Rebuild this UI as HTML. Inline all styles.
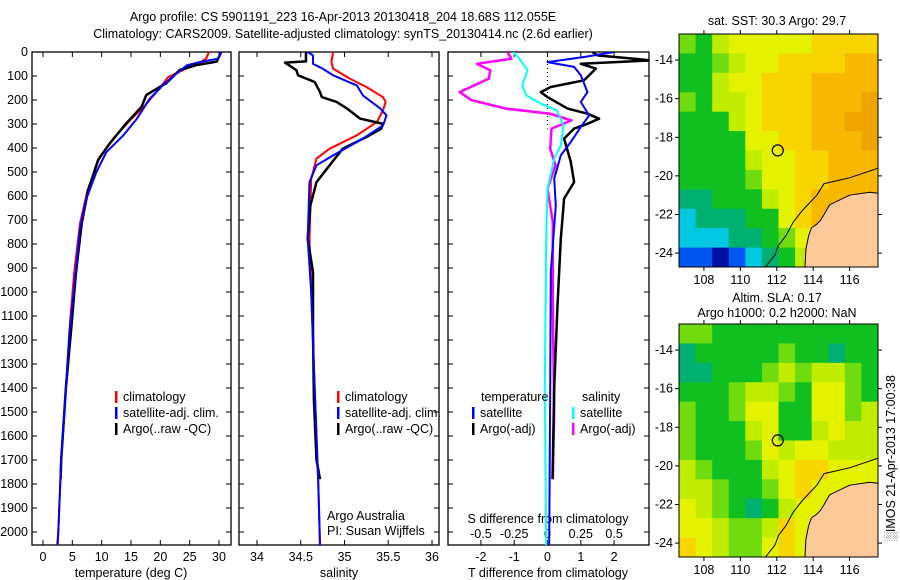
<!DOCTYPE html>
<html><head><meta charset="utf-8">
<style>
html,body{margin:0;padding:0;background:#fff;}
svg{display:block;font-family:"Liberation Sans",sans-serif;font-size:12.5px;}
</style></head>
<body>
<svg id="fig" width="900" height="580" viewBox="0 0 900 580" xmlns="http://www.w3.org/2000/svg">
<text x="343" y="21" text-anchor="middle">Argo profile: CS 5901191_223 16-Apr-2013 20130418_204 18.68S 112.055E</text>
<text x="343" y="38" text-anchor="middle">Climatology: CARS2009. Satellite-adjusted climatology: synTS_20130414.nc (2.6d earlier)</text>
</svg>
<script>
// ---------- DATA ----------
const tClimDepth=[0,28,46,70,105,160,228,283,352,436,575,714,922,1130,1400,1700,2000,2055];
const tClimVal=[28.3,27.8,26.6,24.3,21.3,19.6,17.2,14.9,12.3,9.7,7.6,6.3,5.3,4.6,3.9,3.1,2.6,2.4];
const tSatDepth=[0,28,42,56,125,194,278,347,417,500,611,736,986,1170,1400,1700,2000,2055];
const tSatVal=[30.4,29.8,26.7,24.5,21.0,18.2,16.0,13.7,10.8,9.1,7.4,6.3,5.3,4.5,3.9,3.1,2.6,2.5];
const tArgoDepth=[0,40,54,75,130,179,228,297,380,450,575,714,922,1130,1400,1700,1780];
const tArgoVal=[30.4,29.6,26.2,23.3,21.0,17.6,16.8,14.2,11.4,9.4,7.7,6.6,5.6,4.9,3.9,3.1,3.0];
const sClimDepth=[0,42,69,111,146,188,208,243,292,347,403,444,528,778,1000,1400,1800,2055];
const sClimVal=[34.87,34.85,34.87,35.06,35.25,35.44,35.47,35.44,35.37,35.14,34.83,34.68,34.62,34.60,34.62,34.66,34.70,34.72];
const sSatDepth=[0,14,49,69,97,139,181,236,264,306,361,431,472,542,778,1000,1400,1800,2055];
const sSatVal=[34.58,34.64,34.64,34.75,34.87,35.14,35.21,35.41,35.48,35.44,35.21,34.87,34.68,34.60,34.58,34.62,34.66,34.70,34.72];
const sArgoDepth=[0,39,44,76,97,125,167,188,208,236,278,299,319,354,403,472,542,639,778,917,1167,1450,1700,1780];
const sArgoVal=[34.56,34.56,34.32,34.45,34.47,34.66,34.72,34.74,34.91,35.03,35.18,35.44,35.42,35.25,34.98,34.83,34.68,34.61,34.58,34.64,34.64,34.65,34.68,34.72];
const dTArgoDepth=[0,14,28,35,49,69,118,146,167,188,236,257,278,299,319,361,458,542,611,778,1056,1400,1780];
const dTArgoVal=[1.35,1.5,2.6,3.1,1.0,1.45,1.1,0.1,-0.2,0.0,0.6,1.2,1.55,1.2,0.8,0.5,0.7,0.8,0.5,0.4,0.3,0.2,0.15];
const dTSatDepth=[0,21,42,62,97,167,208,264,312,375,431,528,639,917,1400,2055];
const dTSatVal=[2.0,1.1,0.0,0.8,1.0,1.2,1.0,1.25,1.0,0.7,0.4,0.2,0.25,0.1,0.08,0.05];
const dSSatDepth=[0,28,76,139,181,215,243,306,389,444,569,778,1400,2055];
const dSSatVal=[-0.26,-0.21,-0.15,-0.19,-0.16,-0.05,0.07,0.12,0.1,0.05,0.0,-0.01,-0.02,-0.01];
const dSArgoDepth=[0,28,49,76,111,167,201,236,257,285,319,403,472,569,708,1056,1500,1780];
const dSArgoVal=[-0.3,-0.27,-0.53,-0.43,-0.44,-0.66,-0.57,-0.31,0.02,0.18,0.03,0.02,0.06,0.0,0.04,0.04,0.05,0.04];
const depthTicks=[0,100,200,300,400,500,600,700,800,900,1000,1100,1200,1300,1400,1500,1600,1700,1800,1900,2000];
const tempTicks=[0,5,10,15,20,25,30];
const salTicks=[34,34.5,35,35.5,36];
const tdTicks=[-2,-1,0,1,2];
const sdTicks=[-0.5,-0.25,0,0.25,0.5];
const sdTickLabels=["-0.5","-0.25","0","0.25","0.5"];
const sstGrid=[
[5,4,6,7,7,7,7,7,8,8,8,8],
[4,4,5,6,7,7,8,8,8,8,9,9],
[4,4,6,7,7,8,8,8,9,9,9,9],
[5,4,6,6,7,8,8,8,9,9,9,10],
[4,4,4,6,7,8,8,8,9,9,10,10],
[4,4,4,4,7,7,8,8,9,9,9,10],
[4,4,4,4,6,7,7,8,8,9,9,9],
[4,4,4,4,5,7,7,8,8,9,9,9],
[3,3,4,4,4,6,7,8,9,9,9,9],
[2,3,3,3,4,4,7,8,9,9,9,9],
[2,2,2,3,3,4,5,7,8,9,9,9],
[1,1,0,1,2,3,4,6,8,8,8,8]];
const slaGrid=[
[5,5,4,4,4,4,4,4,4,4,4,4],
[3,4,4,4,4,4,5,4,4,3,4,4],
[3,3,4,4,4,5,6,5,6,6,5,4],
[4,4,4,5,6,6,5,4,7,7,5,4],
[5,4,4,5,7,7,4,4,7,7,5,6],
[5,4,4,4,6,7,4,4,6,7,6,6],
[5,4,4,4,5,7,6,7,7,6,6,6],
[6,5,4,4,4,6,7,8,8,7,7,7],
[6,6,5,4,4,5,7,8,7,7,7,7],
[7,6,5,4,3,4,6,7,7,7,7,7],
[7,7,6,5,5,6,8,7,7,7,7,7],
[8,7,6,5,5,7,8,7,7,7,7,7]];
const lonTicks=[108,110,112,114,116];
const latTicks=[-14,-16,-18,-20,-22,-24];
const argoLon=112.055, argoLat=-18.68;
const coastLon=[117.56,116,114.6,114.2,113.4,112.9,112.5,112.1,111.9,111.4];
const coastLat=[-19.6,-20.1,-20.4,-21.0,-21.8,-22.4,-23.1,-23.6,-24.1,-24.7];
const landLon=[117.56,117.1,116,114.9,114.6,114.4,114.2,113.9,113.75,113.6,113.55];
const landLat=[-20.9,-20.85,-21.0,-21.5,-22.0,-22.3,-22.5,-22.7,-23.1,-23.8,-24.72];

// ---------- helpers ----------
const NS="http://www.w3.org/2000/svg";
const svg=document.getElementById('fig');
function mk(tag,attrs,parent){const e=document.createElementNS(NS,tag);for(const k in attrs)e.setAttribute(k,attrs[k]);(parent||svg).appendChild(e);return e;}
const yTop=52, pxPerM=0.24, yBot=545;
const yD=d=>yTop+d*pxPerM;
function linX(d0,d1,p0,p1){return v=>p0+(v-d0)*(p1-p0)/(d1-d0);}
const P1={x0:32,x1:231}, P2={x0:239,x1:439}, P3={x0:448,x1:649};
const xT=linX(0,30,43,219);
const xS=linX(34,36,257,432);
const xTD=linX(0,1,547.5,580.8);
const xSD=v=>xTD(v*4);

function frame(P,name){
  const g=mk('g',{});  
  mk('rect',{x:P.x0,y:yTop,width:P.x1-P.x0,height:yBot-yTop,fill:'none',stroke:'#000','stroke-width':1.3},g);
  depthTicks.forEach(d=>{const y=yD(d);
    mk('line',{x1:P.x0,x2:P.x0+5,y1:y,y2:y,stroke:'#000'},g);
    mk('line',{x1:P.x1-5,x2:P.x1,y1:y,y2:y,stroke:'#000'},g);});
  return g;
}
function xticks(g,ticks,fx,labels,ly){
  ticks.forEach((t,i)=>{const x=fx(t);
    mk('line',{x1:x,x2:x,y1:yBot,y2:yBot-5,stroke:'#000'},g);
    mk('line',{x1:x,x2:x,y1:yTop,y2:yTop+5,stroke:'#000'},g);
    const tx=mk('text',{x:x,y:ly,'text-anchor':'middle'},g); tx.textContent=labels?labels[i]:String(t);
     });
}
function series(P,depths,vals,fx,color,w,name,clipId){
  const pts=depths.map((d,i)=>fx(vals[i]).toFixed(1)+','+yD(d).toFixed(1)).join(' ');
  const pl=mk('polyline',{points:pts,fill:'none',stroke:color,'stroke-width':w,'stroke-linejoin':'round','clip-path':'url(#'+clipId+')'});
  
  
}
function text(x,y,s,name,anchor,parent){const t=mk('text',{x:x,y:y,'text-anchor':anchor||'start'},parent);t.textContent=s;
    return t;}
function legendEntry(x,y,color,label,name){
  const g=mk('g',{});  
  mk('rect',{x:x,y:y-10,width:2.5,height:12,fill:color},g);
  text(x+8,y,label,'legend-label','start',g);
}
const defs=mk('defs',{});
[['c1',P1],['c2',P2],['c3',P3]].forEach(([id,P])=>{const c=mk('clipPath',{id:id},defs);mk('rect',{x:P.x0,y:yTop,width:P.x1-P.x0,height:yBot-yTop},c);});

const g1=frame(P1,'temperature-panel');
depthTicks.forEach(d=>text(28,yD(d)+4,String(d),'y-tick-label','end'));
xticks(g1,tempTicks,xT,null,561);
text(131,577,'temperature (deg C)','x-axis-title-temperature','middle');
series(P1,tClimDepth,tClimVal,xT,'#f00',2,'temp-climatology-line','c1');
series(P1,tArgoDepth,tArgoVal,xT,'#000',2.5,'temp-argo-line','c1');
series(P1,tSatDepth,tSatVal,xT,'#00f',2,'temp-satellite-line','c1');
legendEntry(115,401,'#f00','climatology','legend-climatology');
legendEntry(115,417,'#00f','satellite-adj. clim.','legend-satellite');
legendEntry(115,433,'#000','Argo(..raw -QC)','legend-argo');

const g2=frame(P2,'salinity-panel');
xticks(g2,salTicks,xS,null,561);
text(339,577,'salinity','x-axis-title-salinity','middle');
series(P2,sClimDepth,sClimVal,xS,'#f00',2,'sal-climatology-line','c2');
series(P2,sArgoDepth,sArgoVal,xS,'#000',2.5,'sal-argo-line','c2');
series(P2,sSatDepth,sSatVal,xS,'#00f',2,'sal-satellite-line','c2');
legendEntry(337,401,'#f00','climatology','legend-climatology');
legendEntry(337,417,'#00f','satellite-adj. clim.','legend-satellite');
legendEntry(337,433,'#000','Argo(..raw -QC)','legend-argo');
text(327,520,'Argo Australia','credit-line-1');
text(327,535,'PI: Susan Wijffels','credit-line-2');

const g3=frame(P3,'difference-panel');
xticks(g3,tdTicks,xTD,null,561);
sdTicks.forEach((t,i)=>text(xSD(t),538,sdTickLabels[i],'s-tick-label','middle'));
text(548,523,'S difference from climatology','s-axis-title','middle');
text(548,577,'T difference from climatology','x-axis-title-tdiff','middle');
mk('line',{x1:xTD(0),x2:xTD(0),y1:yTop,y2:yD(320),stroke:'#000','stroke-dasharray':'1,3'});
series(P3,dSArgoDepth,dSArgoVal,xSD,'#f0f',2.5,'sdiff-argo-line','c3');
series(P3,dTArgoDepth,dTArgoVal,xTD,'#000',2.5,'tdiff-argo-line','c3');
series(P3,dTSatDepth,dTSatVal,xTD,'#00f',2,'tdiff-satellite-line','c3');
series(P3,dSSatDepth,dSSatVal,xSD,'#0ff',2,'sdiff-satellite-line','c3');
text(481,401,'temperature','legend-heading-temperature');
text(582,401,'salinity','legend-heading-salinity');
legendEntry(472,417,'#00f','satellite','legend-t-satellite');
legendEntry(472,433,'#000','Argo(-adj)','legend-t-argo');
legendEntry(572,417,'#0ff','satellite','legend-s-satellite');
legendEntry(572,433,'#f0f','Argo(-adj)','legend-s-argo');

const palette=['#0010a0','#0058f0','#00c8e0','#00b070','#10c020','#70dc10','#c0ec00','#e4f200','#f8d400','#f8b800','#f0a400'];
const mLon0=106.63,mLon1=117.56,mLat0=-12.65,mLat1=-24.72, mX0=679,mX1=878;
function drawMap(top,grid,name,clip){
  const bot=top+233;
  const xm=linX(mLon0,mLon1,mX0,mX1), ym=linX(mLat0,mLat1,top,bot);
  const g=mk('g',{});  
  const c=mk('clipPath',{id:clip},defs); mk('rect',{x:mX0,y:top,width:mX1-mX0,height:bot-top},c);
  const gi=mk('g',{'clip-path':'url(#'+clip+')'},g);
  const nr=grid.length,nc=grid[0].length, cw=(mX1-mX0)/nc, ch=(bot-top)/nr;
  grid.forEach((row,r)=>row.forEach((v,cI)=>{
    const cell=mk('rect',{x:mX0+cI*cw,y:top+r*ch,width:cw+0.6,height:ch+0.6,fill:palette[v]},gi);
    
    
  }));
  const landPts=landLon.map((l,i)=>xm(l)+','+ym(landLat[i])).join(' ')+' '+mX1+','+bot;
  mk('polygon',{points:landPts,fill:'#fcca98',stroke:'#000','stroke-width':1},gi);
  mk('polyline',{points:coastLon.map((l,i)=>xm(l)+','+ym(coastLat[i])).join(' '),fill:'none',stroke:'#000','stroke-width':1},gi);
  mk('circle',{cx:xm(argoLon),cy:ym(argoLat),r:5.5,fill:'none',stroke:'#000','stroke-width':1.2},g);
  mk('rect',{x:mX0,y:top,width:mX1-mX0,height:bot-top,fill:'none',stroke:'#000'},g);
  lonTicks.forEach(l=>{const x=xm(l);
    mk('line',{x1:x,x2:x,y1:top,y2:top-4,stroke:'#000'},g);
    mk('line',{x1:x,x2:x,y1:bot,y2:bot+4,stroke:'#000'},g);
    text(x,bot+17,String(l),'map-lon-label','middle',g);});
  latTicks.forEach(l=>{const y=ym(l);
    mk('line',{x1:mX0,x2:mX0-4,y1:y,y2:y,stroke:'#000'},g);
    mk('line',{x1:mX1,x2:mX1+4,y1:y,y2:y,stroke:'#000'},g);
    text(mX0-6,y+4,String(l),'map-lat-label','end',g);});
}
drawMap(34,sstGrid,'sst-map','cm1');
drawMap(324,slaGrid,'sla-map','cm2');
text(777,25,'sat. SST: 30.3 Argo: 29.7','sst-map-title','middle');
text(777,302,'Altim. SLA: 0.17','sla-map-title-1','middle');
text(777,317,'Argo h1000: 0.2 h2000: NaN','sla-map-title-2','middle');
const im=text(0,0,'\u2591IMOS 21-Apr-2013 17:00:38','imos-timestamp','middle');
im.setAttribute('transform','translate(895,458) rotate(-90)');
</script>
</body></html>
